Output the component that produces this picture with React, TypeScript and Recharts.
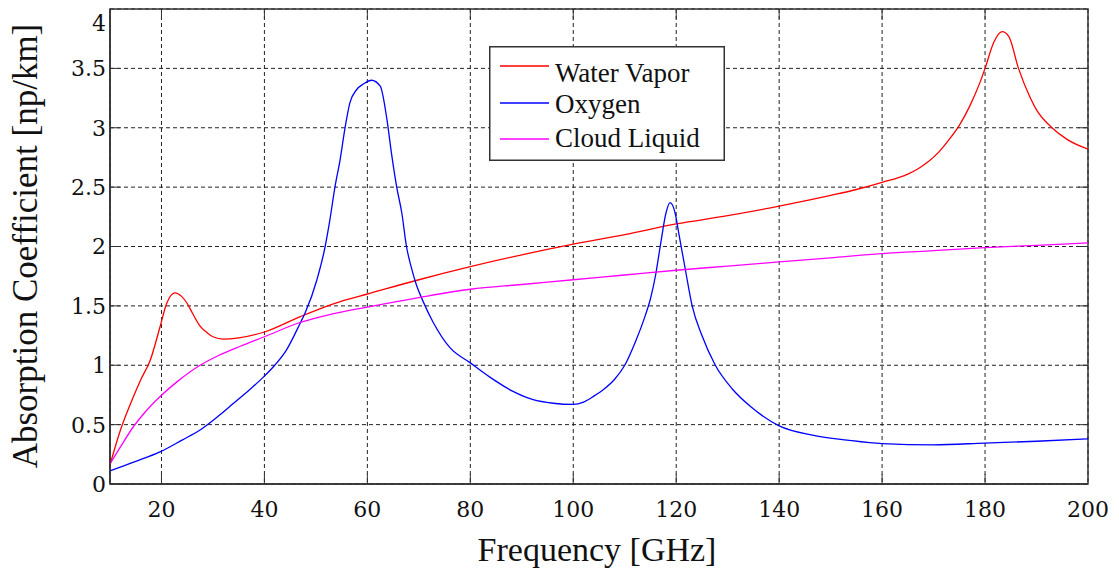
import {
  CartesianGrid,
  Legend,
  Line,
  LineChart,
  ReferenceArea,
  XAxis,
  YAxis,
} from 'recharts'

// Frequency [GHz] / absorption [np/km]
const waterFreq = [
  10, 12, 14.5, 16, 17.8, 19.7, 21, 22.6, 23.9, 25, 26, 27.5, 29, 30, 32, 35, 40,
  47, 55, 60, 70, 80, 90, 100, 110, 120, 130, 140, 150, 155, 160, 165, 167, 169,
  171, 173, 175, 177, 179, 180, 181.7, 183.3, 184.6, 186.5, 188.8, 190, 193,
  196, 200,
]
const waterVals = [
  0.16, 0.45, 0.73, 0.88, 1.04, 1.32, 1.52, 1.61, 1.58, 1.52, 1.44, 1.33, 1.27,
  1.24, 1.22, 1.23, 1.28, 1.41, 1.54, 1.6, 1.72, 1.83, 1.93, 2.02, 2.1, 2.19,
  2.26, 2.34, 2.43, 2.48, 2.54, 2.61, 2.655, 2.715, 2.795, 2.9, 3.02, 3.18,
  3.38, 3.5, 3.72, 3.81, 3.77, 3.5, 3.25, 3.15, 3.0, 2.9, 2.82,
]

const oxyFreq = [
  10, 15, 19.7, 24, 27.5, 31, 34, 37, 39.8, 42, 44.3, 46.9, 47.9, 50.2, 51.8,
  52.7, 53.7, 54.7, 55.7, 56.6, 57.9, 59.3, 60.8, 62.5, 63.8, 64.7, 65.7, 66.7,
  67.6, 68.5, 69.5, 70.8, 72.8, 76, 80, 83.8, 88.3, 92.2, 96.1, 100, 102, 104,
  106, 108, 110, 112, 114, 115, 116, 117, 118, 118.8, 119.8, 120.5, 121.8,
  123.1, 125, 127.6, 130.9, 134.5, 140, 146.7, 153.2, 160, 170, 180, 190, 200,
]
const oxyVals = [
  0.11, 0.19, 0.27, 0.37, 0.455, 0.57, 0.68, 0.79, 0.9, 1.0, 1.13, 1.35, 1.44,
  1.72, 2.0, 2.22, 2.5, 2.73, 3.01, 3.21, 3.32, 3.37, 3.4, 3.35, 3.07, 2.78,
  2.5, 2.28, 2.0, 1.83, 1.68, 1.54, 1.36, 1.15, 1.02, 0.9, 0.78, 0.71, 0.68,
  0.67, 0.69, 0.74, 0.8, 0.88, 1.0, 1.19, 1.42, 1.56, 1.76, 2.03, 2.28, 2.37,
  2.28, 2.11, 1.8, 1.5, 1.25, 1.0, 0.8, 0.65, 0.49, 0.41, 0.37, 0.34, 0.33,
  0.345, 0.36, 0.38,
]

const cloudFreq = [
  10, 12, 14.5, 17, 19.7, 23, 27.5, 31, 35.3, 40, 46.9, 53, 60, 70, 80, 90, 100,
  110, 120, 130, 140, 150, 160, 170, 180, 190, 200,
]
const cloudVals = [
  0.17, 0.31, 0.48, 0.615, 0.735, 0.86, 1.0, 1.08, 1.16, 1.24, 1.36, 1.43, 1.49,
  1.57, 1.64, 1.68, 1.72, 1.76, 1.8, 1.835, 1.87, 1.905, 1.94, 1.965, 1.99,
  2.01, 2.03,
]

const xTicks = [20, 40, 60, 80, 100, 120, 140, 160, 180, 200]
const yTicks = [0, 0.5, 1, 1.5, 2, 2.5, 3, 3.5, 4]

const SERIES = [
  { name: 'Water Vapor', color: '#ff0000', freq: waterFreq, vals: waterVals },
  { name: 'Oxygen', color: '#0000ff', freq: oxyFreq, vals: oxyVals },
  { name: 'Cloud Liquid', color: '#ff00ff', freq: cloudFreq, vals: cloudVals },
]

const toRows = (freq: number[], vals: number[]) =>
  freq.map((f, i) => ({ f, v: vals[i] }))

// plot box in page pixels
const PLOT = { left: 110, right: 1088, top: 9, bottom: 484 }
const TICK_LEN = 10
const FRAME = '#333'
const NUM_FONT = "'DejaVu Serif', 'Liberation Serif', serif"
const TEXT_FONT = "'Liberation Serif', 'Times New Roman', serif"

const XTick = (props: any) => {
  const { x, payload } = props
  const v = payload.value
  return (
    <g>
      <text
        x={x}
        y={517}
        textAnchor="middle"
        style={{ fontFamily: NUM_FONT, fontSize: 22 }}
        fill="#111"
      >
        {v}
      </text>
      {v < 200 && (
        <>
          <line x1={x} y1={PLOT.bottom} x2={x} y2={PLOT.bottom - TICK_LEN} stroke={FRAME} />
          <line x1={x} y1={PLOT.top} x2={x} y2={PLOT.top + TICK_LEN} stroke={FRAME} />
        </>
      )}
    </g>
  )
}

const YTick = (props: any) => {
  const { y, payload } = props
  const v = payload.value
  const ty = v === 4 ? 23 : y
  return (
    <g>
      <text
        x={106}
        y={ty}
        dy="0.36em"
        textAnchor="end"
        style={{ fontFamily: NUM_FONT, fontSize: 22 }}
        fill="#111"
      >
        {v}
      </text>
      {v > 0 && v < 4 && (
        <>
          <line x1={PLOT.left} y1={y} x2={PLOT.left + TICK_LEN} y2={y} stroke={FRAME} />
          <line x1={PLOT.right} y1={y} x2={PLOT.right - TICK_LEN} y2={y} stroke={FRAME} />
        </>
      )}
    </g>
  )
}

const XTitle = () => (
  <text
    x={597}
    y={561}
    textAnchor="middle"
    style={{ fontFamily: TEXT_FONT, fontSize: 34 }}
    fill="#111"
  >
    Frequency [GHz]
  </text>
)

const YTitle = () => (
  <text
    x={37}
    y={246}
    transform="rotate(-90, 37, 246)"
    textAnchor="middle"
    style={{ fontFamily: TEXT_FONT, fontSize: 35 }}
    fill="#111"
  >
    Absorption Coefficient [np/km]
  </text>
)

const rowLineY = [20, 57, 93]
const rowTextY = [36, 67, 101]

const LegendBox = () => (
  <svg width={236} height={115} style={{ display: 'block' }}>
    <rect x={0.75} y={0.75} width={234.5} height={113.5} fill="#fff" stroke={FRAME} strokeWidth={1.5} />
    {SERIES.map((s, i) => (
      <g key={s.name}>
        <line x1={11} x2={60} y1={rowLineY[i]} y2={rowLineY[i]} stroke={s.color} strokeWidth={1.5} />
        <text
          x={66}
          y={rowTextY[i]}
          style={{ fontFamily: TEXT_FONT, fontSize: 27 }}
          fill="#111"
        >
          {s.name}
        </text>
      </g>
    ))}
  </svg>
)

export default function App() {
  return (
    <div style={{ position: 'absolute', left: 0, top: 0, background: '#fff' }}>
      <LineChart
        width={1119}
        height={569}
        margin={{ top: PLOT.top, right: 1119 - PLOT.right, left: 0, bottom: 0 }}
      >
        <CartesianGrid stroke="#222" strokeDasharray="4 3" />
        <XAxis
          dataKey="f"
          type="number"
          domain={[10, 200]}
          ticks={xTicks}
          height={569 - PLOT.bottom}
          tickLine={false}
          axisLine={{ stroke: FRAME, strokeWidth: 1.5 }}
          tick={XTick}
          interval={0}
          label={<XTitle />}
        />
        <YAxis
          type="number"
          domain={[0, 4]}
          ticks={yTicks}
          width={PLOT.left}
          tickLine={false}
          axisLine={{ stroke: FRAME, strokeWidth: 1.5 }}
          tick={YTick}
          interval={0}
          label={<YTitle />}
        />
        <ReferenceArea
          x1={10}
          x2={200}
          y1={0}
          y2={4}
          fill="none"
          stroke={FRAME}
          strokeWidth={1.5}
        />
        {SERIES.map((s) => (
          <Line
            key={s.name}
            data={toRows(s.freq, s.vals)}
            dataKey="v"
            name={s.name}
            type="monotone"
            stroke={s.color}
            strokeWidth={1.3}
            dot={false}
            activeDot={false}
            isAnimationActive={false}
          />
        ))}
        <Legend
          layout="horizontal"
          verticalAlign="middle"
          align="center"
          content={() => <LegendBox />}
          wrapperStyle={{ position: 'absolute', left: 489, top: 46, width: 236, height: 115 }}
        />
      </LineChart>
    </div>
  )
}
